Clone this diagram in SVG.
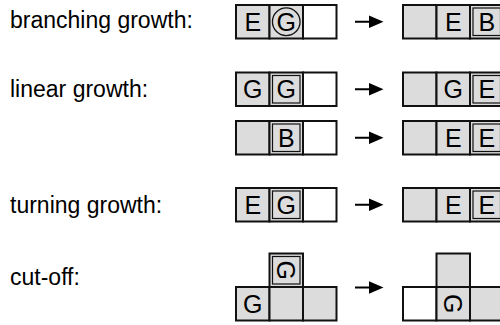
<svg xmlns="http://www.w3.org/2000/svg" width="500" height="325" viewBox="0 0 500 325">
<style>
.bg{fill:#ffffff}
.lbl{font-family:"Liberation Sans",Arial,Helvetica,sans-serif;font-size:23px;fill:#000}
.c{fill:#dcdcdc;stroke:#111;stroke-width:2}
.w{fill:#ffffff;stroke:#111;stroke-width:2}
.in{fill:none;stroke:#111;stroke-width:1.2}
.t{font-family:"Liberation Sans",Arial,Helvetica,sans-serif;font-size:25px;fill:#000;text-anchor:middle}
.ring{fill:none;stroke:#111;stroke-width:1.3}
.arr{stroke:#000;stroke-width:2;fill:none;marker-end:url(#ah)}
</style>
<defs>
<marker id="ah" markerUnits="userSpaceOnUse" markerWidth="15" markerHeight="13" viewBox="0 0 15 13" refX="0.5" refY="6.5" orient="auto">
<path d="M0,0 L15,6.5 L0,13 Z" fill="#000"/>
</marker>
</defs>
<rect class="bg" x="0" y="0" width="500" height="325"/>

<g id="labels">
<text class="lbl" x="10" y="28">branching growth:</text>
<text class="lbl" x="10" y="96.5">linear growth:</text>
<text class="lbl" x="10" y="213">turning growth:</text>
<text class="lbl" x="10" y="285">cut-off:</text>
</g>

<g id="branching-before">
<rect class="c" x="236" y="5" width="33.5" height="33.5"/>
<rect class="c" x="269.5" y="5" width="33.5" height="33.5"/>
<rect class="w" x="303" y="5" width="33.5" height="33.5"/>
<text class="t" x="252.75" y="30.7">E</text>
<circle class="ring" cx="286.25" cy="21.75" r="13.8"/>
<text class="t" x="286.25" y="30.7">G</text>
</g>
<g id="branching-after">
<rect class="c" x="403" y="5" width="33.5" height="33.5"/>
<rect class="c" x="436.5" y="5" width="33.5" height="33.5"/>
<rect class="c" x="470" y="5" width="33.5" height="33.5"/>
<rect class="in" x="473" y="8" width="27.5" height="27.5"/>
<text class="t" x="453.25" y="30.7">E</text>
<text class="t" x="486.75" y="30.7">B</text>
</g>

<g id="linear1-before">
<rect class="c" x="236" y="72.5" width="33.5" height="33.5"/>
<rect class="c" x="269.5" y="72.5" width="33.5" height="33.5"/>
<rect class="w" x="303" y="72.5" width="33.5" height="33.5"/>
<rect class="in" x="272.5" y="75.5" width="27.5" height="27.5"/>
<text class="t" x="252.75" y="98.2">G</text>
<text class="t" x="286.25" y="98.2">G</text>
</g>
<g id="linear1-after">
<rect class="c" x="403" y="72.5" width="33.5" height="33.5"/>
<rect class="c" x="436.5" y="72.5" width="33.5" height="33.5"/>
<rect class="c" x="470" y="72.5" width="33.5" height="33.5"/>
<rect class="in" x="473" y="75.5" width="27.5" height="27.5"/>
<text class="t" x="453.25" y="98.2">G</text>
<text class="t" x="486.75" y="98.2">E</text>
</g>

<g id="linear2-before">
<rect class="c" x="236" y="121" width="33.5" height="33.5"/>
<rect class="c" x="269.5" y="121" width="33.5" height="33.5"/>
<rect class="w" x="303" y="121" width="33.5" height="33.5"/>
<rect class="in" x="272.5" y="124" width="27.5" height="27.5"/>
<text class="t" x="286.25" y="146.7">B</text>
</g>
<g id="linear2-after">
<rect class="c" x="403" y="121" width="33.5" height="33.5"/>
<rect class="c" x="436.5" y="121" width="33.5" height="33.5"/>
<rect class="c" x="470" y="121" width="33.5" height="33.5"/>
<rect class="in" x="473" y="124" width="27.5" height="27.5"/>
<text class="t" x="453.25" y="146.7">E</text>
<text class="t" x="486.75" y="146.7">E</text>
</g>

<g id="turning-before">
<rect class="c" x="236" y="188" width="33.5" height="33.5"/>
<rect class="c" x="269.5" y="188" width="33.5" height="33.5"/>
<rect class="w" x="303" y="188" width="33.5" height="33.5"/>
<rect class="in" x="272.5" y="191" width="27.5" height="27.5"/>
<text class="t" x="252.75" y="213.7">E</text>
<text class="t" x="286.25" y="213.7">G</text>
</g>
<g id="turning-after">
<rect class="c" x="403" y="188" width="33.5" height="33.5"/>
<rect class="c" x="436.5" y="188" width="33.5" height="33.5"/>
<rect class="c" x="470" y="188" width="33.5" height="33.5"/>
<rect class="in" x="473" y="191" width="27.5" height="27.5"/>
<text class="t" x="453.25" y="213.7">E</text>
<text class="t" x="486.75" y="213.7">E</text>
</g>

<g id="cutoff-before">
<rect class="c" x="236" y="287" width="33.5" height="33.5"/>
<rect class="c" x="269.5" y="287" width="33.5" height="33.5"/>
<rect class="c" x="303" y="287" width="33.5" height="33.5"/>
<rect class="c" x="269.5" y="253.5" width="33.5" height="33.5"/>
<rect class="in" x="272.5" y="256.5" width="27.5" height="27.5"/>
<text class="t" x="252.75" y="312.7">G</text>
<text class="t" x="286.25" y="279.2" transform="rotate(90 286.25 270.25)">G</text>
</g>
<g id="cutoff-after">
<rect class="w" x="403" y="287" width="33.5" height="33.5"/>
<rect class="c" x="436.5" y="287" width="33.5" height="33.5"/>
<rect class="c" x="470" y="287" width="33.5" height="33.5"/>
<rect class="c" x="436.5" y="253.5" width="33.5" height="33.5"/>
<text class="t" x="453.25" y="312.7" transform="rotate(90 453.25 303.75)">G</text>
</g>

<g id="connectors">
<line class="arr" x1="355" y1="21.75" x2="369" y2="21.75"/>
<line class="arr" x1="355" y1="89.25" x2="369" y2="89.25"/>
<line class="arr" x1="355" y1="137.75" x2="369" y2="137.75"/>
<line class="arr" x1="355" y1="204.75" x2="369" y2="204.75"/>
<line class="arr" x1="355" y1="287.5" x2="369" y2="287.5"/>
</g>
</svg>
